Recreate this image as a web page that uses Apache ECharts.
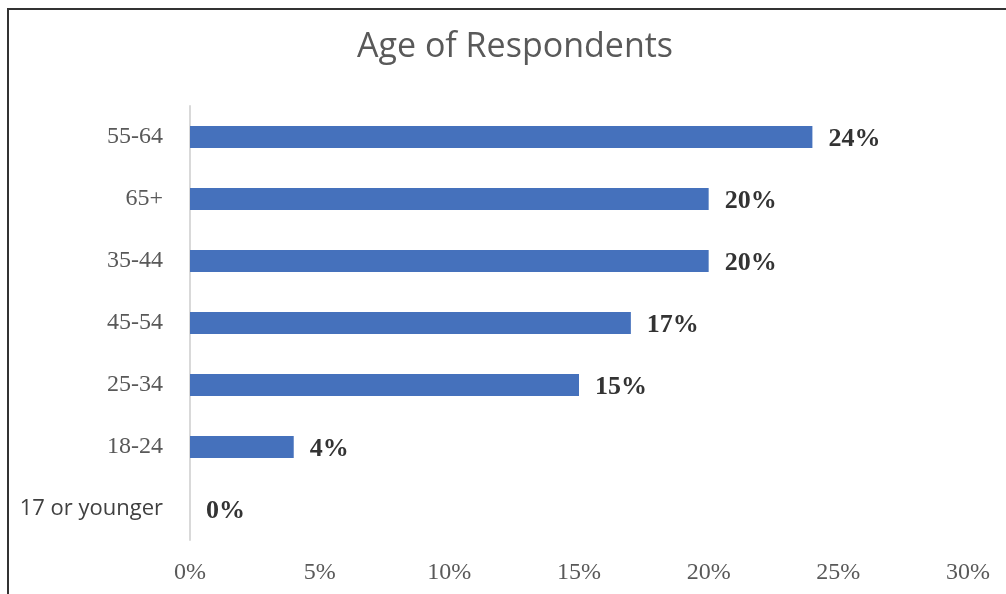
<!DOCTYPE html>
<html>
<head>
<meta charset="utf-8">
<script src="https://cdn.jsdelivr.net/npm/echarts@6/dist/echarts.min.js"></script>
<style>
html,body{margin:0;padding:0;background:#fff;}
#chart{width:1006px;height:594px;}
</style>
</head>
<body>
<div id="chart"></div>
<script>
const titleText = "Age of Respondents";
const categories = ["17 or younger", "18-24", "25-34", "45-54", "35-44", "65+", "55-64"];
const values = [0, 4, 15, 17, 20, 20, 24];
const xTicks = [0, 5, 10, 15, 20, 25, 30];

const chart = echarts.init(document.getElementById('chart'));
chart.setOption({
  animation: false,
  backgroundColor: '#ffffff',
  title: {
    text: titleText,
    left: 352,
    top: 25,
    textStyle: { fontFamily: 'Open Sans', fontSize: 34, fontWeight: 'normal', color: '#595959' }
  },
  graphic: [
    { type: 'line', shape: { x1: 7, y1: 9, x2: 1006, y2: 9 }, style: { stroke: '#333', lineWidth: 2 } },
    { type: 'line', shape: { x1: 8, y1: 9, x2: 8, y2: 594 }, style: { stroke: '#333', lineWidth: 2 } }
  ],
  grid: { left: 190, right: 38, top: 106, bottom: 54, containLabel: false },
  xAxis: {
    type: 'value',
    min: xTicks[0],
    max: xTicks[xTicks.length - 1],
    interval: 5,
    axisLine: { show: false },
    axisTick: { show: false },
    splitLine: { show: false },
    axisLabel: {
      formatter: v => v + '%',
      fontFamily: 'Liberation Serif',
      fontSize: 24,
      color: '#595959',
      margin: 21
    }
  },
  yAxis: {
    type: 'category',
    data: categories,
    axisLine: { show: true, lineStyle: { color: '#d9d9d9', width: 2 } },
    axisTick: { show: false },
    axisLabel: {
      margin: 27,
      fontSize: 24,
      color: '#595959',
      fontFamily: 'Liberation Serif',
      rich: {
        sans: { fontFamily: 'Open Sans', fontSize: 22, color: '#404040' }
      },
      formatter: v => /[a-z]/.test(v) ? '{sans|' + v + '}' : v
    }
  },
  series: [{
    type: 'bar',
    data: values,
    barWidth: 22,
    itemStyle: { color: '#4571BC' },
    label: {
      show: true,
      position: 'right',
      distance: 16,
      offset: [0, 2],
      formatter: p => p.value + '%',
      fontFamily: 'Liberation Serif',
      fontWeight: 'bold',
      fontSize: 26,
      color: '#333333'
    }
  }]
});
</script>
</body>
</html>
